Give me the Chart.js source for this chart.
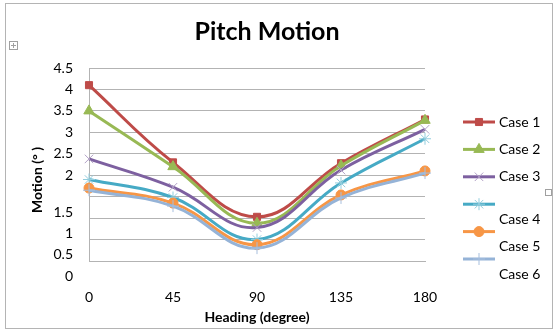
<!DOCTYPE html>
<html>
<head>
<meta charset="utf-8">
<script src="https://cdn.jsdelivr.net/npm/chart.js@4.4.0/dist/chart.umd.min.js"></script>
<style>
    html, body { margin: 0; padding: 0; background: #fff; }
    #wrap { position: relative; width: 555px; height: 331px; }
</style>
</head>
<body>
<div id="wrap"><canvas id="pitchChart" width="555" height="331"></canvas></div>
<script>
// Values
const headings = ['0', '45', '90', '135', '180'];
const caseNames = ['Case 1', 'Case 2', 'Case 3', 'Case 4', 'Case 5', 'Case 6'];
const case1 = [4.1, 2.3, 1.03, 2.28, 3.3];
const case2 = [3.5, 2.2, 0.88, 2.22, 3.28];
const case3 = [2.38, 1.72, 0.78, 2.12, 3.07];
const case4 = [1.9, 1.48, 0.5, 1.82, 2.85];
const case5 = [1.7, 1.35, 0.38, 1.54, 2.1];
const case6 = [1.65, 1.28, 0.3, 1.47, 2.05];
const yTickLabels = ['0', '0.5', '1', '1.5', '2', '2.5', '3', '3.5', '4', '4.5'];
// these labels sit one line lower in the original picture
const loweredTicks = ['0', '0.5', '1', '1.5'];

const allCases = [case1, case2, case3, case4, case5, case6];
const lineColors = ['#BE4B48', '#98B954', '#7D60A0', '#46AAC5', '#F79646', '#95B3D7'];
const markerColors = ['#BE4B48', '#98B954', '#B3A2C7', '#93CDDD', '#F79646', '#A7BFDE'];
const markerStyles = ['rect', 'triangle', 'crossRot', 'star', 'circle', 'cross'];
const markerSizes = [5, 6, 6, 6, 5, 6];

const FONT = 'Lato';

const chartDecor = {
    id: 'chartDecor',
    beforeDraw(chart) {
        const ctx = chart.ctx;
        ctx.save();
        ctx.fillStyle = '#fff';
        ctx.fillRect(0, 0, chart.width, chart.height);
        ctx.strokeStyle = '#b4b4b4';
        ctx.lineWidth = 1;
        ctx.strokeRect(5.5, 3.5, 547, 325);
        // little word-frame handles
        ctx.strokeStyle = '#a0a0a0';
        ctx.strokeRect(9.5, 41.5, 8, 8);
        ctx.beginPath();
        ctx.moveTo(11, 45.5); ctx.lineTo(16, 45.5);
        ctx.moveTo(13.5, 43); ctx.lineTo(13.5, 48);
        ctx.stroke();
        ctx.strokeRect(545.5, 189.5, 6, 6);
        ctx.restore();
    },
    afterDraw(chart) {
        const ctx = chart.ctx;
        ctx.save();
        ctx.fillStyle = '#000';
        ctx.textAlign = 'center';
        ctx.textBaseline = 'middle';
        ctx.font = 'bold 25px ' + FONT;
        ctx.fillText('Pitch Motion', 267, 32);

        ctx.save();
        ctx.translate(37, 180);
        ctx.rotate(-Math.PI / 2);
        ctx.font = 'bold 14px ' + FONT;
        ctx.fillText('Motion (° )', 0, 0);
        ctx.restore();

        // legend: line + marker, like the office chart
        chart.data.datasets.forEach((ds, i) => {
            const y = 122 + i * 27.4;
            ctx.strokeStyle = ds.borderColor;
            ctx.lineWidth = 3;
            ctx.beginPath();
            ctx.moveTo(463, y);
            ctx.lineTo(495, y);
            ctx.stroke();

            ctx.fillStyle = ds.pointBackgroundColor;
            ctx.strokeStyle = ds.pointBorderColor;
            ctx.lineWidth = ds.pointBorderWidth;
            Chart.helpers.drawPoint(ctx, {
                pointStyle: ds.pointStyle,
                radius: ds.pointRadius,
                borderWidth: ds.pointBorderWidth,
                rotation: 0
            }, 479, y);

            ctx.fillStyle = '#000';
            ctx.font = '14px ' + FONT;
            ctx.textAlign = 'left';
            ctx.fillText(ds.label, 499, y + (i >= 3 ? 15 : 0));
        });
        ctx.restore();
    }
};

const datasets = allCases.map((values, i) => ({
    label: caseNames[i],
    data: values,
    borderColor: lineColors[i],
    borderWidth: 3,
    tension: 0.4,
    pointStyle: markerStyles[i],
    pointRadius: markerSizes[i],
    pointBackgroundColor: markerColors[i],
    pointBorderColor: markerColors[i],
    pointBorderWidth: 1,
    order: allCases.length - i
}));

const ctx = document.getElementById('pitchChart').getContext('2d');
new Chart(ctx, {
    type: 'line',
    data: { labels: headings, datasets: datasets },
    options: {
        responsive: false,
        animation: false,
        layout: { padding: { left: 25, right: 130, top: 68, bottom: 4 } },
        plugins: {
            legend: { display: false },
            title: { display: false },
            tooltip: { enabled: false }
        },
        scales: {
            x: {
                grid: { display: false, drawTicks: false },
                border: { display: true, color: '#b3b3b3' },
                ticks: { padding: 28, color: '#000', font: { family: FONT, size: 14 } },
                title: {
                    display: true,
                    text: 'Heading (degree)',
                    color: '#000',
                    font: { family: FONT, size: 14, weight: 'bold' },
                    padding: { top: 0, bottom: 1 }
                },
                afterFit: scale => { scale.height = 66; }
            },
            y: {
                min: 0,
                max: 4.5,
                grid: { color: '#b3b3b3', drawTicks: false },
                border: { display: true, color: '#b3b3b3' },
                ticks: {
                    stepSize: 0.5,
                    autoSkip: false,
                    padding: 16,
                    color: '#000',
                    font: { family: FONT, size: 14, lineHeight: 1.1 },
                    callback: function (value) {
                        const label = yTickLabels[Math.round(value / 0.5)];
                        return loweredTicks.includes(label) ? ['', '', label] : label;
                    }
                },
                afterFit: scale => { scale.width = 64; }
            }
        }
    },
    plugins: [chartDecor]
});
</script>
</body>
</html>
